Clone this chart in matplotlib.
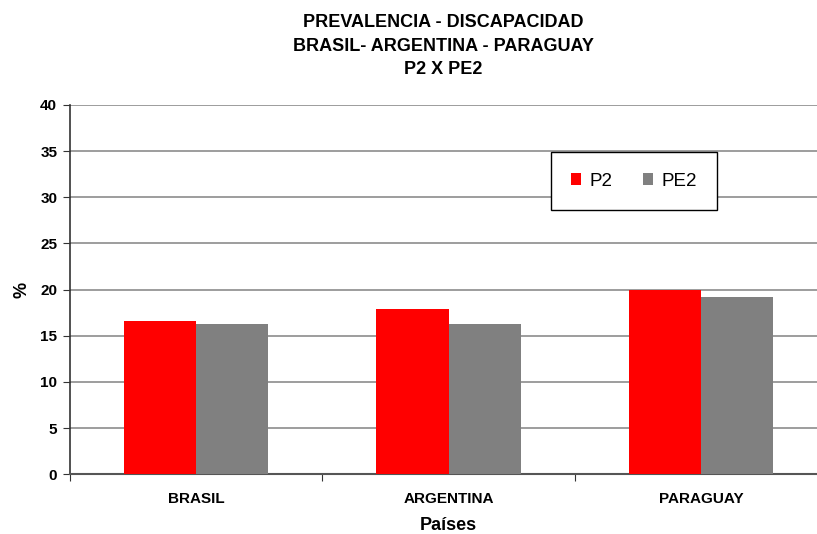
import numpy as np
import matplotlib.pyplot as plt
from matplotlib.patches import Rectangle

plt.rcParams['font.family'] = ['Liberation Sans', 'DejaVu Sans']

paises = ['BRASIL', 'ARGENTINA', 'PARAGUAY']
p2 = [16.6, 17.9, 20.0]
pe2 = [16.3, 16.3, 19.2]
yticks = [0, 5, 10, 15, 20, 25, 30, 35, 40]

fig = plt.figure(figsize=(8.17, 5.34), dpi=100)
ax = fig.add_axes([0.0853, 0.1118, 0.9276, 0.6916])

x = np.arange(len(paises))
w = 0.286
ax.bar(x - w / 2, p2, w, color='#ff0000', label='P2', zorder=3)
ax.bar(x + w / 2, pe2, w, color='#808080', label='PE2', zorder=3)

ax.set_xlim(-0.5, 2.5)
ax.set_ylim(0, 40)
ax.set_yticks(yticks)
ax.set_yticklabels([str(t) for t in yticks], fontsize=11, fontweight='bold')
for t in yticks[1:]:
    ax.axhline(t, color='#8c8c8c', lw=1.2, zorder=1)

# category labels, ticks at boundaries
ax.set_xticks([-0.5, 0.5, 1.5, 2.5])
ax.set_xticklabels([])
ax.set_xticks(x, minor=True)
ax.set_xticklabels(paises, minor=True, fontsize=11, fontweight='bold')
ax.tick_params(axis='x', which='minor', length=0, pad=13)
ax.tick_params(axis='x', which='major', length=5, direction='out', color='#333333')
ax.tick_params(axis='y', length=5, direction='out', color='#333333', pad=4)

for s in ['top', 'right']:
    ax.spines[s].set_visible(False)
ax.spines['left'].set_color('#333333')
ax.spines['bottom'].set_color('#555555')
ax.spines['left'].set_linewidth(1.2)
ax.spines['bottom'].set_linewidth(1.5)

ax.set_ylabel('%', fontsize=13, fontweight='bold', labelpad=7)
ax.set_xlabel('Países', fontsize=13, fontweight='bold', labelpad=8)

fig.text(0.543, 0.958, 'PREVALENCIA - DISCAPACIDAD', ha='center', va='center',
         fontsize=13, fontweight='bold')
fig.text(0.543, 0.913, 'BRASIL- ARGENTINA - PARAGUAY', ha='center', va='center',
         fontsize=13, fontweight='bold')
fig.text(0.543, 0.869, 'P2 X PE2', ha='center', va='center',
         fontsize=13, fontweight='bold')

# legend box
fig.patches.append(Rectangle((551 / 817, 1 - 209.5 / 534), 166 / 817, 57.5 / 534,
                             transform=fig.transFigure, facecolor='white',
                             edgecolor='black', lw=1, zorder=5))
leg = fig.legend(loc='center', bbox_to_anchor=(634 / 817, 1 - 181 / 534), ncol=2,
                 frameon=False, fontsize=13.5, handlelength=0.55, handleheight=0.55,
                 handletextpad=0.45, columnspacing=1.6)
leg.set_zorder(6)

fig.savefig('out.png', dpi=100)
